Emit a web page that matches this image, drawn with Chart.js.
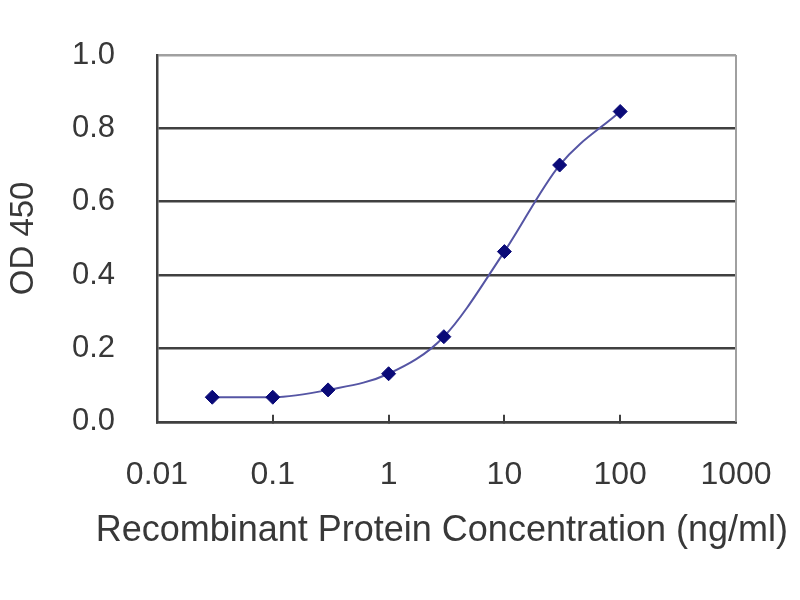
<!DOCTYPE html>
<html>
<head>
<meta charset="utf-8">
<script src="https://cdn.jsdelivr.net/npm/chart.js@4/dist/chart.umd.min.js"></script>
<style>
  html, body { margin: 0; padding: 0; background: #ffffff; }
  #wrap { width: 800px; height: 600px; }
</style>
</head>
<body>
<div id="wrap"><canvas id="c" width="800" height="600"></canvas></div>
<script>
const concentrations = [0.03, 0.1, 0.3, 1, 3, 10, 30, 100];
const od450 = [0.067, 0.067, 0.087, 0.131, 0.232, 0.464, 0.700, 0.846];
const xTicks = [0.01, 0.1, 1, 10, 100, 1000];
const xTickLabels = ['0.01', '0.1', '1', '10', '100', '1000'];
const yTicks = [0, 0.2, 0.4, 0.6, 0.8, 1.0];

const FONT = "'Liberation Sans', Arial, sans-serif";
const TEXT = '#383838';

const frame = {
  id: 'frame',
  afterDraw(chart) {
    const {ctx, chartArea: a} = chart;
    ctx.save();
    ctx.strokeStyle = '#a0a0a0';
    ctx.lineWidth = 2;
    ctx.beginPath();
    ctx.moveTo(a.right, a.top);
    ctx.lineTo(a.right, a.bottom);
    ctx.stroke();
    ctx.restore();
  }
};

new Chart(document.getElementById('c'), {
  type: 'line',
  data: {
    datasets: [{
      data: concentrations.map((x, i) => ({x: x, y: od450[i]})),
      borderColor: '#5555a4',
      borderWidth: 2,
      cubicInterpolationMode: 'monotone',
      pointStyle: 'rectRot',
      pointRadius: 7,
      pointBackgroundColor: '#0a0a78',
      pointBorderColor: '#0a0a78',
      pointBorderWidth: 1,
      fill: false
    }]
  },
  options: {
    responsive: false,
    animation: false,
    devicePixelRatio: 1,
    layout: { padding: { left: 0, right: 12, top: 55, bottom: 0 } },
    plugins: {
      legend: { display: false },
      tooltip: { enabled: false },
      title: {
        display: true,
        position: 'bottom',
        align: 'end',
        fullSize: true,
        text: 'Recombinant Protein Concentration (ng/ml)',
        color: TEXT,
        font: { family: FONT, size: 36, weight: 'normal' },
        padding: { top: 0, bottom: 47 }
      }
    },
    scales: {
      x: {
        type: 'logarithmic',
        min: 0.01,
        max: 1000,
        afterBuildTicks(scale) { scale.ticks = xTicks.map(v => ({value: v})); },
        afterFit(scale) {
          scale.height = 88;
          scale.paddingLeft = 0;
          scale.paddingRight = 64;
        },
        ticks: {
          autoSkip: false,
          maxRotation: 0,
          padding: 41,
          color: TEXT,
          font: { family: FONT, size: 32 },
          callback: (v) => { const i = xTicks.indexOf(v); return i >= 0 ? xTickLabels[i] : ''; }
        },
        grid: {
          drawOnChartArea: false,
          drawTicks: true,
          tickLength: -7,
          color: '#404040',
          lineWidth: 2
        },
        border: { display: true, color: '#404040', width: 2.5 }
      },
      y: {
        min: 0,
        max: 1,
        afterBuildTicks(scale) { scale.ticks = yTicks.map(v => ({value: v})); },
        afterFit(scale) {
          scale.width = 157;
          scale.paddingTop = 0;
          scale.paddingBottom = 0;
        },
        ticks: {
          padding: 42,
          color: TEXT,
          font: { family: FONT, size: 31 },
          callback: (v) => v.toFixed(1)
        },
        grid: {
          drawTicks: false,
          color: (ctx) => (ctx.tick && ctx.tick.value === 1 ? '#a0a0a0' : '#404040'),
          lineWidth: 2.5
        },
        border: { display: true, color: '#404040', width: 2.5 },
        title: {
          display: true,
          text: 'OD 450',
          color: TEXT,
          font: { family: FONT, size: 33 },
          padding: { top: 4, bottom: 0 }
        }
      }
    }
  },
  plugins: [frame]
});
</script>
</body>
</html>
